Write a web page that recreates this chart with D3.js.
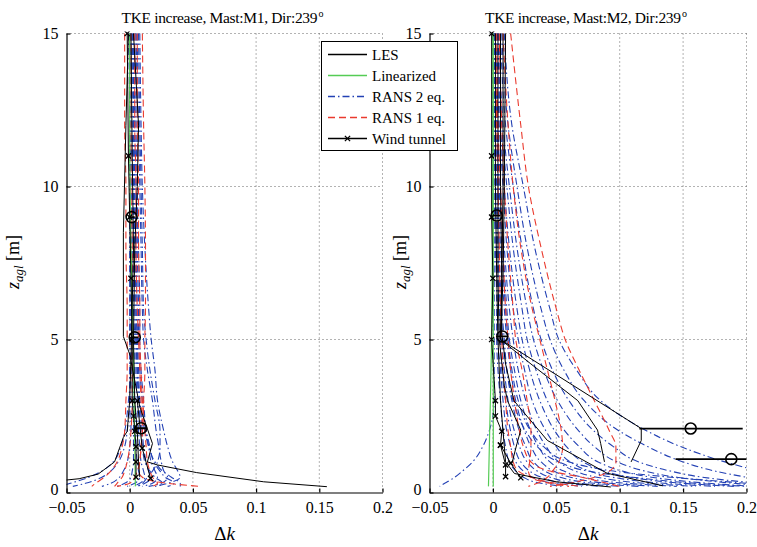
<!DOCTYPE html>
<html><head><meta charset="utf-8">
<script src="https://cdn.jsdelivr.net/npm/d3@7"></script>
<style>
body{margin:0;background:#fff}
svg{display:block}
text{font-family:"Liberation Serif","Times New Roman",serif;fill:#000}
</style></head><body>
<svg id="c" width="757" height="547"></svg>
<script>
// heights (m) at which the RANS profiles below are read
const zLevels = [15,12,10,8,6,5,4,3,2,1.5,1,0.7,0.5,0.3,0.2];
const xTicks = [-0.05,0,0.05,0.1,0.15,0.2];
const xTickLabels = ["\u22120.05","0","0.05","0.1","0.15","0.2"];
const yTicks = [0,5,10,15];
const panelTitles = ["TKE increase, Mast:M1, Dir:239","TKE increase, Mast:M2, Dir:239"];
const legendLabels = ["LES","Linearized","RANS 2 eq.","RANS 1 eq.","Wind tunnel"];

// ---- Mast M1 ----
const m1Rans2 = [
 [0.008,0.009,0.010,0.012,0.015,0.017,0.020,0.022,0.027,0.030,0.034,0.038,0.040,0.030,0.020],
 [0.006,0.007,0.008,0.009,0.010,0.011,0.014,0.018,0.021,0.023,0.025,0.027,0.030,0.025,0.015],
 [0.007,0.008,0.009,0.010,0.011,0.013,0.016,0.020,0.024,0.024,0.022,0.018,0.014,0.010,0.006],
 [0.005,0.005,0.006,0.007,0.008,0.008,0.009,0.011,0.013,0.015,0.017,0.020,0.022,0.018,0.010],
 [0.004,0.004,0.005,0.005,0.006,0.006,0.007,0.008,0.010,0.011,0.013,0.015,0.017,0.012,0.006],
 [0.003,0.003,0.004,0.004,0.005,0.005,0.005,0.006,0.007,0.008,0.009,0.011,0.012,0.008,0.003],
 [0.002,0.003,0.003,0.004,0.004,0.005,0.006,0.008,0.012,0.015,0.020,0.026,0.033,0.040,0.040],
 [0.002,0.002,0.003,0.003,0.003,0.004,0.004,0.004,0.005,0.005,0.006,0.007,0.008,0.004,-0.002],
 [0.001,0.001,0.002,0.002,0.002,0.002,0.003,0.003,0.003,0.003,0.003,0.002,0.001,-0.004,-0.010],
 [0.000,0.000,0.001,0.001,0.001,0.001,0.001,0.001,0.001,0.000,-0.002,-0.005,-0.008,-0.015,-0.022],
 [-0.001,0.000,0.000,0.000,0.000,0.000,0.000,0.000,-0.002,-0.004,-0.009,-0.015,-0.022,-0.035,-0.045],
 [0.001,0.001,0.001,0.001,0.001,0.001,0.001,-0.001,-0.004,-0.007,-0.013,-0.022,-0.032,-0.047,-0.055],
 [0.005,0.006,0.006,0.006,0.007,0.007,0.008,0.010,0.013,0.016,0.019,0.024,0.028,0.035,0.030],
 [0.003,0.004,0.004,0.005,0.005,0.006,0.006,0.007,0.009,0.010,0.012,0.016,0.020,0.026,0.022]
];
const m1Rans1 = [
 [0.010,0.011,0.012,0.0125,0.0125,0.012,0.012,0.011,0.010,0.009,0.008,0.007,0.010,0.030,0.055],
 [-0.004,-0.004,-0.003,-0.003,-0.002,-0.002,-0.002,-0.003,-0.004,-0.006,-0.010,-0.015,-0.020,-0.027,-0.030],
 [0.004,0.004,0.005,0.005,0.006,0.007,0.008,0.009,0.010,0.009,0.008,0.006,0.004,0.000,-0.010],
 [0.001,0.001,0.001,0.002,0.002,0.002,0.002,0.002,0.001,0.000,-0.002,-0.004,-0.006,-0.010,-0.012],
 [0.006,0.006,0.007,0.007,0.008,0.008,0.009,0.010,0.012,0.013,0.014,0.016,0.018,0.022,0.018]
];
const m1Les = [
 [[-0.001,15],[-0.003,12],[-0.005,8.5],[-0.005,5.1],[0.001,4.4],[0.000,3],[-0.002,2],[-0.005,1.8],[-0.012,1.0],[-0.025,0.6],[-0.040,0.45],[-0.052,0.4]],
 [[0.001,15],[0.002,11],[0.003,8],[0.001,4.3],[0.008,2.8],[0.018,1.6],[0.014,1.0],[0.022,0.9],[0.053,0.65],[0.106,0.35],[0.156,0.19]],
 [[0.003,15],[0.007,12],[0.006,10],[0.004,8],[0.003,5],[0.004,3],[0.006,2],[0.007,1],[0.008,0.5]]
];
const m1Linear = [
 [[0.0045,0.2],[0.003,4.5],[0.001,8],[0.000,12],[0.000,15]]
];
const m1Tunnel = [
 [[-0.002,15],[-0.001,11],[0.000,9],[0.001,7],[0.002,5],[0.002,3],[0.003,2.5],[0.004,2],[0.005,1.5],[0.005,1],[0.005,0.5]],
 [[0.006,3],[0.0099,1.45],[0.0165,0.46]]
];
// [dk, z, low, high]
const m1Circles = [[0.0015,9.0,-0.001,0.004],[0.004,5.07,0.001,0.007],[0.009,2.1,0.005,0.013]];

// ---- Mast M2 ----
const m2Rans2 = [
 [0.009,0.015,0.024,0.033,0.045,0.052,0.066,0.085,0.122,0.148,0.183,0.210,0.230,0.250,0.260],
 [0.007,0.012,0.019,0.027,0.038,0.045,0.056,0.072,0.100,0.122,0.150,0.175,0.200,0.230,0.250],
 [0.006,0.010,0.016,0.023,0.032,0.038,0.047,0.060,0.080,0.095,0.115,0.140,0.165,0.210,0.240],
 [0.005,0.008,0.013,0.019,0.027,0.032,0.040,0.051,0.068,0.080,0.098,0.120,0.145,0.190,0.220],
 [0.004,0.007,0.011,0.016,0.023,0.027,0.034,0.043,0.057,0.068,0.083,0.102,0.125,0.170,0.205],
 [0.004,0.006,0.009,0.013,0.019,0.023,0.029,0.037,0.049,0.058,0.071,0.088,0.108,0.150,0.190],
 [0.003,0.005,0.008,0.011,0.016,0.020,0.025,0.031,0.042,0.050,0.061,0.076,0.094,0.135,0.175],
 [0.003,0.004,0.006,0.009,0.013,0.016,0.020,0.026,0.035,0.042,0.052,0.065,0.082,0.120,0.160],
 [0.002,0.004,0.005,0.008,0.011,0.013,0.017,0.022,0.030,0.036,0.045,0.056,0.071,0.105,0.145],
 [0.002,0.003,0.004,0.006,0.009,0.011,0.014,0.018,0.025,0.030,0.038,0.048,0.061,0.092,0.130],
 [0.002,0.003,0.004,0.005,0.007,0.009,0.011,0.015,0.021,0.026,0.032,0.041,0.053,0.080,0.115],
 [0.001,0.002,0.003,0.004,0.006,0.007,0.009,0.012,0.017,0.021,0.027,0.035,0.045,0.068,0.100],
 [0.001,0.002,0.002,0.003,0.005,0.006,0.007,0.010,0.014,0.017,0.022,0.029,0.038,0.058,0.085],
 [0.001,0.001,0.002,0.003,0.004,0.004,0.006,0.008,0.011,0.014,0.018,0.024,0.031,0.048,0.070],
 [0.000,0.001,0.001,0.002,0.003,0.003,0.004,0.006,0.008,0.010,0.013,0.018,0.024,0.038,0.055],
 [0.000,0.000,0.000,0.001,0.001,0.001,0.001,0.001,-0.003,-0.008,-0.016,-0.024,-0.030,-0.038,-0.042],
 [0.001,0.002,0.003,0.004,0.006,0.008,0.011,0.016,0.026,0.035,0.052,0.075,0.110,0.160,0.200],
 [0.002,0.003,0.005,0.007,0.010,0.012,0.015,0.020,0.030,0.040,0.060,0.095,0.140,0.200,0.230]
];
const m2Rans1 = [
 [0.014,0.022,0.028,0.038,0.050,0.057,0.068,0.080,0.092,0.097,0.097,0.092,0.080,0.060,0.045],
 [0.008,0.012,0.016,0.022,0.031,0.037,0.043,0.049,0.054,0.055,0.052,0.047,0.043,0.035,0.028],
 [0.005,0.007,0.009,0.012,0.016,0.018,0.023,0.027,0.030,0.030,0.029,0.028,0.030,0.045,0.060],
 [0.003,0.004,0.006,0.008,0.010,0.012,0.014,0.017,0.021,0.024,0.030,0.045,0.070,0.090,0.100],
 [0.002,0.003,0.004,0.005,0.006,0.007,0.008,0.010,0.012,0.014,0.016,0.020,0.030,0.050,0.070]
];
const m2Les = [
 [[0.008,15],[0.008,10],[0.007,7],[0.006,5],[0.117,2.09],[0.117,1.7],[0.109,1.0]],
 [[0.010,15],[0.009,10],[0.008,7],[0.006,5],[0.030,4.2],[0.067,3.0],[0.0825,2.04],[0.085,1.6],[0.088,1.0]],
 [[0.006,15],[0.006,10],[0.007,7],[0.007,5.2],[0.010,4.2],[0.0166,3.0],[0.043,1.7],[0.090,0.63],[0.134,0.22]],
 [[0.004,15],[0.004,10],[0.004,7],[0.005,5],[0.009,3.5],[0.0115,3.0],[0.022,2.04],[0.019,1.6],[0.015,0.95]],
 [[0.002,15],[0.002,10],[0.003,7],[0.004,5],[0.006,3],[0.008,2],[0.010,1.0],[0.017,0.62],[0.050,0.35],[0.093,0.18]]
];
const m2Linear = [
 [[-0.0035,0.2],[-0.002,3],[-0.001,5],[0.000,10],[0.000,15]],
 [[0.0003,0.2],[0.0003,15]]
];
const m2Tunnel = [
 [[-0.001,15],[-0.001,11],[-0.001,9],[0.000,7],[-0.001,5],[0.002,3],[0.002,2.5],[0.007,2],[0.006,1.55],[0.010,0.9],[0.010,0.52]],
 [[0.006,1.55],[0.014,0.96],[0.022,0.48]]
];
const m2Circles = [[0.003,9.05,0.000,0.006],[0.0074,5.1,0.003,0.012],[0.156,2.09,0.1155,0.197],[0.188,1.09,0.144,0.201]];

// ---- styles ----
const BLUE = "#2341b4", RED = "#ea3a2e", GREEN = "#55cc55";
const FONT = '"Liberation Serif","Times New Roman",serif';

const svg = d3.select("#c");
const y = d3.scaleLinear().domain([0,15]).range([492.5,33.5]);

const panels = [
 {x: d3.scaleLinear().domain([-0.05,0.2]).range([66.5,382.5]), title: panelTitles[0], rans2: m1Rans2, rans1: m1Rans1, les: m1Les, lin: m1Linear, tun: m1Tunnel, circ: m1Circles, ylabX: 19},
 {x: d3.scaleLinear().domain([-0.05,0.2]).range([429.5,746.5]), title: panelTitles[1], rans2: m2Rans2, rans1: m2Rans1, les: m2Les, lin: m2Linear, tun: m2Tunnel, circ: m2Circles, ylabX: 406}
];

const toPts = vals => vals.map((v,k)=>[v, zLevels[k]]);

function crossPath(cx, cy, s){
  return `M${cx-s},${cy-s}L${cx+s},${cy+s}M${cx-s},${cy+s}L${cx+s},${cy-s}`;
}

panels.forEach((p,i)=>{
  const x = p.x;
  const [x0,x1] = x.range();
  const [yb,yt] = y.range();
  const g = svg.append("g");

  svg.append("clipPath").attr("id","clip"+i).append("rect")
    .attr("x",x0).attr("y",yt-2).attr("width",x1-x0).attr("height",yb-yt+4);

  // grid
  g.append("g").selectAll("line").data(xTicks.slice(1)).join("line")
    .attr("x1",d=>x(d)).attr("x2",d=>x(d)).attr("y1",yt).attr("y2",yb)
    .attr("stroke","#666").attr("stroke-width",1).attr("stroke-dasharray","1,3");
  g.append("g").selectAll("line").data(yTicks.slice(1)).join("line")
    .attr("x1",x0).attr("x2",x1).attr("y1",d=>y(d)).attr("y2",d=>y(d))
    .attr("stroke","#666").attr("stroke-width",1).attr("stroke-dasharray","1,3");

  const plot = g.append("g").attr("clip-path",`url(#clip${i})`);
  const smooth = d3.line().x(d=>x(d[0])).y(d=>y(d[1])).curve(d3.curveMonotoneY);
  const straight = d3.line().x(d=>x(d[0])).y(d=>y(d[1]));

  plot.append("g").selectAll("path").data(p.rans2).join("path")
    .attr("d",d=>smooth(toPts(d))).attr("fill","none").attr("stroke",BLUE)
    .attr("stroke-width",1.1).attr("stroke-dasharray","7,3,1.5,3");
  plot.append("g").selectAll("path").data(p.rans1).join("path")
    .attr("d",d=>smooth(toPts(d))).attr("fill","none").attr("stroke",RED)
    .attr("stroke-width",1.1).attr("stroke-dasharray","7,4");
  plot.append("g").selectAll("path").data(p.lin).join("path")
    .attr("d",d=>smooth(d)).attr("fill","none").attr("stroke",GREEN).attr("stroke-width",1.2);
  plot.append("g").selectAll("path").data(p.les).join("path")
    .attr("d",d=>straight(d)).attr("fill","none").attr("stroke","#000").attr("stroke-width",1);
  const tg = plot.append("g");
  tg.selectAll("path.l").data(p.tun).join("path").attr("class","l")
    .attr("d",d=>straight(d)).attr("fill","none").attr("stroke","#000").attr("stroke-width",1);
  tg.selectAll("path.m").data(p.tun.flat()).join("path").attr("class","m")
    .attr("d",d=>crossPath(x(d[0]),y(d[1]),2.6)).attr("stroke","#000").attr("stroke-width",1.3);
  const cg = plot.append("g");
  cg.selectAll("line").data(p.circ).join("line")
    .attr("x1",d=>x(d[2])).attr("x2",d=>x(d[3])).attr("y1",d=>y(d[1])).attr("y2",d=>y(d[1]))
    .attr("stroke","#000").attr("stroke-width",1.8);
  cg.selectAll("circle").data(p.circ).join("circle")
    .attr("cx",d=>x(d[0])).attr("cy",d=>y(d[1])).attr("r",5.5)
    .attr("fill","none").attr("stroke","#000").attr("stroke-width",1.6);

  // axes
  const ay = g.append("g").attr("transform",`translate(${x0},0)`)
    .call(d3.axisLeft(y).tickValues(yTicks).tickSizeInner(-4).tickSizeOuter(0).tickPadding(8).tickFormat(d3.format("d")));
  const ax = g.append("g").attr("transform",`translate(0,${yb})`)
    .call(d3.axisBottom(x).tickValues(xTicks).tickSizeInner(-4).tickSizeOuter(0).tickPadding(9)
      .tickFormat((d,k)=>xTickLabels[k]));
  [ay,ax].forEach(a=>{
    a.attr("font-family",FONT).attr("font-size",16);
    a.selectAll("text").attr("fill","#000");
    a.selectAll("line,path").attr("stroke","#000").attr("stroke-width",1.2);
  });
  ay.selectAll(".tick text").filter(d=>d===0).attr("dy","0.12em");

  // title
  const cx = (x0+x1)/2;
  const tx = cx - 103;
  g.append("text").attr("x",tx).attr("y",23).attr("font-size",15.5)
    .attr("textLength",196).attr("lengthAdjust","spacing").text(p.title);
  g.append("text").attr("x",tx+197).attr("y",17).attr("font-size",10).text("o");

  // x label
  const xl = g.append("text").attr("x",cx).attr("y",540).attr("text-anchor","middle").attr("font-size",19);
  xl.append("tspan").text("\u0394");
  xl.append("tspan").attr("font-style","italic").text("k");

  // y label
  const yl = g.append("text").attr("transform",`translate(${p.ylabX},262) rotate(-90)`)
    .attr("text-anchor","middle").attr("font-size",18);
  yl.append("tspan").attr("font-style","italic").text("z");
  yl.append("tspan").attr("font-style","italic").attr("font-size",13).attr("dy",4).text("agl");
  yl.append("tspan").attr("dy",-4).text(" [m]");
});

// legend
const lg = svg.append("g");
lg.append("rect").attr("x",321.5).attr("y",41.5).attr("width",136).attr("height",109)
  .attr("fill","#fff").attr("stroke","#000").attr("stroke-width",1);
const legStyles = [
  {stroke:"#000", dash:null},
  {stroke:GREEN, dash:null},
  {stroke:BLUE, dash:"7,3,1.5,3"},
  {stroke:RED, dash:"7,4"},
  {stroke:"#000", dash:null, marker:true}
];
legendLabels.forEach((lab,k)=>{
  const yy = 54.5 + k*21;
  const s = legStyles[k];
  lg.append("line").attr("x1",328).attr("x2",367).attr("y1",yy).attr("y2",yy)
    .attr("stroke",s.stroke).attr("stroke-width",1.3).attr("stroke-dasharray",s.dash);
  if (s.marker) lg.append("path").attr("d",crossPath(347.5,yy,2.6)).attr("stroke","#000").attr("stroke-width",1.3);
  lg.append("text").attr("x",372).attr("y",yy).attr("dy","0.35em").attr("font-size",15).text(lab);
});
</script>
</body></html>
